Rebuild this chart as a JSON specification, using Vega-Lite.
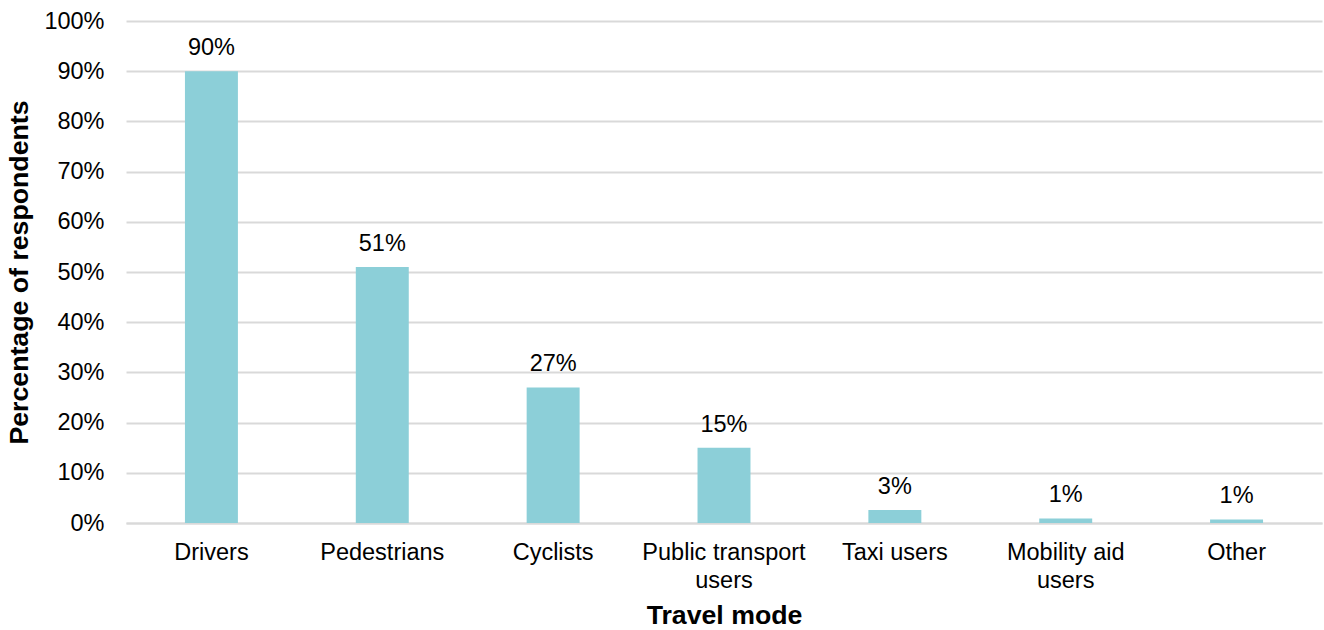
{
  "$schema": "https://vega.github.io/schema/vega-lite/v6.json",
  "autosize": {"type": "none"},
  "width": 1196,
  "height": 502,
  "padding": {"left": 126, "top": 21, "right": 2, "bottom": 107},
  "background": "white",
  "config": {
    "font": "Liberation Sans",
    "view": {"stroke": null}
  },
  "data": {
    "values": [
      {"mode": "Drivers", "share": 0.90},
      {"mode": "Pedestrians", "share": 0.51},
      {"mode": "Cyclists", "share": 0.27},
      {"mode": "Public transport users", "share": 0.15},
      {"mode": "Taxi users", "share": 0.026},
      {"mode": "Mobility aid users", "share": 0.009},
      {"mode": "Other", "share": 0.007}
    ]
  },
  "encoding": {
    "x": {
      "field": "mode",
      "type": "nominal",
      "sort": null,
      "scale": {"paddingInner": 0.69, "paddingOuter": 0.345},
      "axis": {
        "title": "Travel mode",
        "titleFontSize": 26.7,
        "titleFontWeight": "bold",
        "titleColor": "#000000",
        "titlePadding": 11,
        "labelAngle": 0,
        "labelFontSize": 23.5,
        "labelColor": "#000000",
        "labelPadding": 17,
        "labelLineHeight": 28,
        "labelExpr": "datum.label == 'Public transport users' ? ['Public transport', 'users'] : datum.label == 'Mobility aid users' ? ['Mobility aid', 'users'] : datum.label",
        "ticks": false,
        "domainColor": "#d9d9d9",
        "domainWidth": 2
      }
    },
    "y": {
      "field": "share",
      "type": "quantitative",
      "scale": {"domain": [0, 1]},
      "axis": {
        "title": "Percentage of respondents",
        "titleFontSize": 26.7,
        "titleFontWeight": "bold",
        "titleColor": "#000000",
        "titlePadding": 10,
        "format": ".0%",
        "values": [0, 0.1, 0.2, 0.3, 0.4, 0.5, 0.6, 0.7, 0.8, 0.9, 1.0],
        "labelFontSize": 23.5,
        "labelColor": "#000000",
        "labelPadding": 22,
        "labelOverlap": false,
        "ticks": false,
        "domain": false,
        "grid": true,
        "gridColor": "#d9d9d9",
        "gridWidth": 2
      }
    }
  },
  "layer": [
    {
      "mark": {"type": "bar", "color": "#8ccfd8"}
    },
    {
      "mark": {"type": "text", "baseline": "alphabetic", "dy": -16, "fontSize": 23.5, "color": "#000000"},
      "encoding": {
        "text": {"field": "share", "type": "quantitative", "format": ".0%"}
      }
    }
  ]
}
